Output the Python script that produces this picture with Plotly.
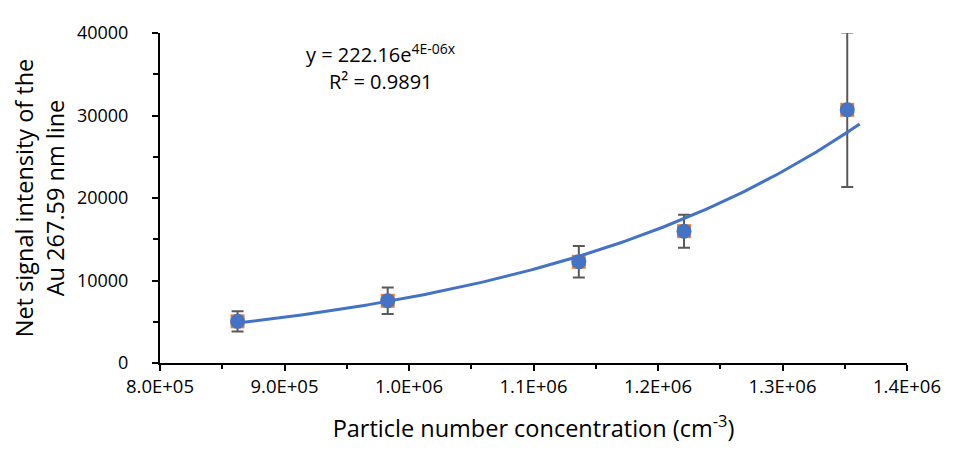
import numpy as np
import plotly.graph_objects as go

# Data
conc = [8.623e5, 9.829e5, 1.1364e6, 1.2209e6, 1.352e6]
intensity = [5050, 7540, 12270, 15980, 30690]
err = [1220, 1600, 1900, 2000, 9370]
x_ticks = [8.0e5, 9.0e5, 1.0e6, 1.1e6, 1.2e6, 1.3e6, 1.4e6]
x_ticktext = ["8.0E+05", "9.0E+05", "1.0E+06", "1.1E+06", "1.2E+06", "1.3E+06", "1.4E+06"]
y_ticks = [0, 10000, 20000, 30000, 40000]
y_ticktext = ["0", "10000", "20000", "30000", "40000"]
forecast_forward = 1.0e4

# exponential trendline (least squares on log y, as Excel does)
b, lna = np.polyfit(conc, np.log(intensity), 1)
xfit = np.linspace(min(conc), max(conc) + forecast_forward, 200)
yfit = np.exp(lna) * np.exp(b * xfit)

FONT = "Open Sans"
BLUE = "#4472C4"
ORANGE = "#ED7D31"
GREY = "#595959"

fig = go.Figure()
fig.add_trace(go.Scatter(
    x=conc, y=intensity, mode="markers",
    marker=dict(symbol="square", size=14, color=ORANGE),
    error_y=dict(type="data", array=err, color=GREY, thickness=2, width=6),
    showlegend=False, hoverinfo="skip"))
fig.add_trace(go.Scatter(
    x=conc, y=intensity, mode="markers",
    marker=dict(symbol="circle", size=15, color=BLUE),
    showlegend=False))
fig.add_trace(go.Scatter(
    x=xfit, y=yfit, mode="lines",
    line=dict(color=BLUE, width=3),
    showlegend=False, hoverinfo="skip"))

fig.update_layout(
    width=945, height=442,
    margin=dict(l=152, r=40, t=20, b=84),
    paper_bgcolor="white", plot_bgcolor="white",
    font=dict(family=FONT, size=18, color="#000000"),
    xaxis=dict(
        range=[8.0e5, 1.4e6], tickvals=x_ticks, ticktext=x_ticktext,
        tickfont=dict(size=18.5),
        showgrid=False, zeroline=False,
        showline=True, linecolor="black", linewidth=2,
        ticks="outside", ticklen=6, tickwidth=2, tickcolor="black",
        minor=dict(dtick=5e4, ticks="outside", ticklen=4, tickwidth=2, tickcolor="black", showgrid=False),
        title=dict(text="Particle number concentration (cm<sup>-3</sup>)", font=dict(size=23.5), standoff=23),
    ),
    yaxis=dict(
        range=[0, 40000], tickvals=y_ticks, ticktext=y_ticktext,
        tickfont=dict(size=18), ticklabelstandoff=20,
        showgrid=False, zeroline=False,
        showline=True, linecolor="black", linewidth=2,
        ticks="outside", ticklen=6, tickwidth=2, tickcolor="black",
        minor=dict(dtick=5000, ticks="outside", ticklen=5, tickwidth=2, tickcolor="black", showgrid=False),
        title=dict(text="Net signal intensity of the<br>Au 267.59 nm line", font=dict(size=23.5), standoff=10),
    ),
    annotations=[
        dict(xref="paper", yref="paper", x=0.296, y=0.938,
             text="y = 222.16e<sup>4E-06x</sup>", showarrow=False,
             font=dict(size=20), xanchor="center", yanchor="middle"),
        dict(xref="paper", yref="paper", x=0.296, y=0.852,
             text="R² = 0.9891", showarrow=False,
             font=dict(size=20), xanchor="center", yanchor="middle"),
    ],
)

fig.write_html("out.html")
